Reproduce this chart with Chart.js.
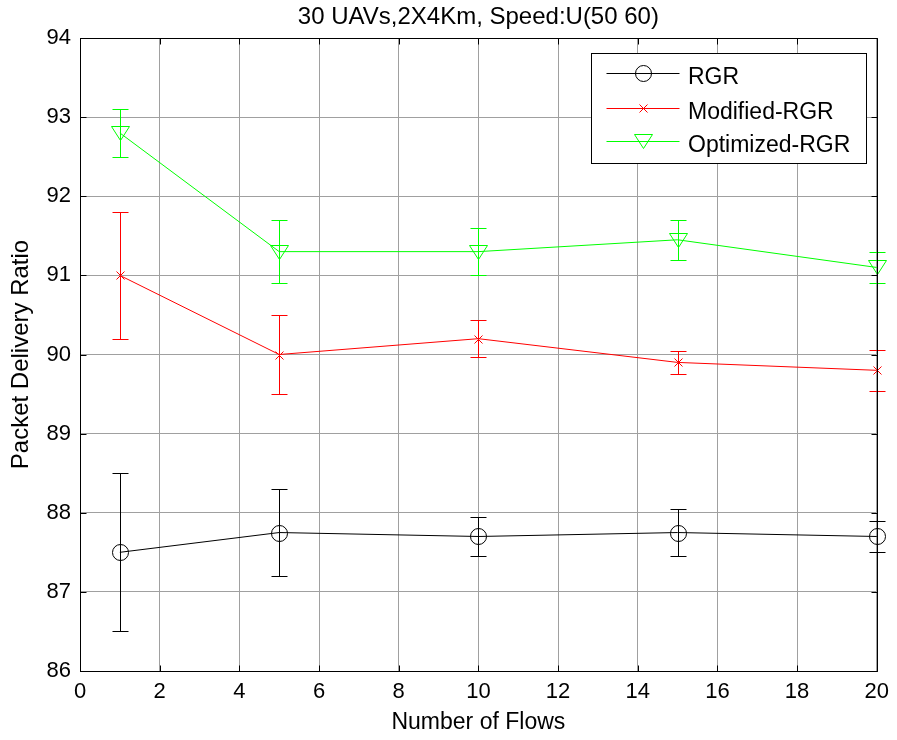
<!DOCTYPE html>
<html>
<head>
<meta charset="utf-8">
<title>Packet Delivery Ratio vs Number of Flows</title>
<script src="https://cdn.jsdelivr.net/npm/chart.js@4.4.1/dist/chart.umd.min.js"></script>
<style>
  html, body { margin: 0; padding: 0; background: #fff; }
  canvas { display: block; }
</style>
</head>
<body>
<canvas id="chart" width="897" height="740"></canvas>
<script>
// Number of flows on the x axis
const flows = [1, 5, 10, 15, 20];

// Packet delivery ratio (mean) per protocol
const rgr = [87.5, 87.75, 87.7, 87.75, 87.7];
const modifiedRgr = [91.0, 90.0, 90.2, 89.9, 89.8];
const optimizedRgr = [92.8, 91.3, 91.3, 91.45, 91.1];

// Half-length of each error bar
const rgrErr = [1.0, 0.55, 0.25, 0.3, 0.2];
const modifiedRgrErr = [0.8, 0.5, 0.23, 0.15, 0.26];
const optimizedRgrErr = [0.3, 0.4, 0.3, 0.25, 0.2];

// Series names and axis ticks
const seriesNames = ['RGR', 'Modified-RGR', 'Optimized-RGR'];
const xTicks = [0, 2, 4, 6, 8, 10, 12, 14, 16, 18, 20];
const yTicks = [86, 87, 88, 89, 90, 91, 92, 93, 94];

const chartTitle = '30 UAVs,2X4Km, Speed:U(50 60)';
const xTitle = 'Number of Flows';
const yTitle = 'Packet Delivery Ratio';

const FONT = "'Liberation Sans', Arial, Helvetica, sans-serif";

const colors = ['#000000', '#ff0000', '#00ff00'];
const markerKinds = ['circle', 'x', 'tri'];
const seriesValues = [rgr, modifiedRgr, optimizedRgr];
const seriesErrors = [rgrErr, modifiedRgrErr, optimizedRgrErr];

// Hollow MATLAB-style marker, snapped to the pixel grid
function drawMarker(ctx, kind, color, x, y) {
  const cx = Math.round(x) + 0.5, cy = Math.round(y) + 0.5;
  ctx.save();
  ctx.strokeStyle = color;
  ctx.lineWidth = 1;
  ctx.beginPath();
  if (kind === 'circle') {
    ctx.arc(cx, cy, 8, 0, Math.PI * 2);
  } else if (kind === 'x') {
    ctx.moveTo(cx - 4, cy - 4); ctx.lineTo(cx + 4, cy + 4);
    ctx.moveTo(cx + 4, cy - 4); ctx.lineTo(cx - 4, cy + 4);
  } else if (kind === 'tri') {
    ctx.moveTo(cx - 9, cy - 7); ctx.lineTo(cx + 9, cy - 7); ctx.lineTo(cx, cy + 7); ctx.closePath();
  }
  ctx.stroke();
  ctx.restore();
}

const datasets = seriesValues.map((vals, i) => ({
  label: seriesNames[i],
  data: flows.map((x, j) => ({ x: x, y: vals[j] })),
  borderColor: colors[i],
  backgroundColor: colors[i],
  borderWidth: 1,
  tension: 0,
  fill: false,
  pointRadius: 0,
  pointHoverRadius: 0,
  clip: false
}));

// Vertical error bars with caps
const errorBarPlugin = {
  id: 'errorBars',
  beforeDatasetsDraw(chart) {
    const { ctx, scales: { x, y } } = chart;
    const cap = 8;
    ctx.save();
    ctx.lineWidth = 1;
    seriesValues.forEach((vals, i) => {
      ctx.strokeStyle = colors[i];
      vals.forEach((v, j) => {
        const px = Math.round(x.getPixelForValue(flows[j])) + 0.5;
        const top = Math.round(y.getPixelForValue(v + seriesErrors[i][j])) + 0.5;
        const bot = Math.round(y.getPixelForValue(v - seriesErrors[i][j])) + 0.5;
        ctx.beginPath();
        ctx.moveTo(px, top); ctx.lineTo(px, bot);
        ctx.moveTo(px - cap, top); ctx.lineTo(px + cap, top);
        ctx.moveTo(px - cap, bot); ctx.lineTo(px + cap, bot);
        ctx.stroke();
      });
    });
    ctx.restore();
  },
  // markers on top of the lines, at the positions the line controller computed
  afterDatasetsDraw(chart) {
    const { ctx } = chart;
    chart.data.datasets.forEach((ds, i) => {
      const meta = chart.getDatasetMeta(i);
      meta.data.forEach(pt => drawMarker(ctx, markerKinds[i], colors[i], pt.x, pt.y));
    });
  }
};

// Box frame, inward ticks on all sides, title and boxed legend
const framePlugin = {
  id: 'frame',
  afterDraw(chart) {
    const { ctx, chartArea: a, scales: { x, y } } = chart;
    ctx.save();
    ctx.strokeStyle = '#000';
    ctx.lineWidth = 1;
    const L = Math.round(a.left) + 0.5, R = Math.round(a.right) + 0.5;
    const T = Math.round(a.top) + 0.5, B = Math.round(a.bottom) + 0.5;
    ctx.beginPath();
    ctx.rect(L, T, R - L, B - T);
    const tl = 6;
    xTicks.forEach(v => {
      const px = Math.round(x.getPixelForValue(v)) + 0.5;
      ctx.moveTo(px, B); ctx.lineTo(px, B - tl);
      ctx.moveTo(px, T); ctx.lineTo(px, T + tl);
    });
    yTicks.forEach(v => {
      const py = Math.round(y.getPixelForValue(v)) + 0.5;
      ctx.moveTo(L, py); ctx.lineTo(L + tl, py);
      ctx.moveTo(R, py); ctx.lineTo(R - tl, py);
    });
    ctx.stroke();

    // title
    ctx.fillStyle = '#000';
    ctx.font = '24px ' + FONT;
    ctx.textAlign = 'center';
    ctx.textBaseline = 'middle';
    ctx.fillText(chartTitle, (a.left + a.right) / 2, 17);

    // legend
    const lw = 275, lh = 110;
    const lx = Math.round(a.right - 11 - lw) + 0.5;
    const ly = Math.round(a.top + 15) + 0.5;
    ctx.fillStyle = '#fff';
    ctx.fillRect(lx, ly, lw, lh);
    ctx.strokeStyle = '#000';
    ctx.strokeRect(lx, ly, lw, lh);
    ctx.font = '23px ' + FONT;
    ctx.textAlign = 'left';
    ctx.textBaseline = 'alphabetic';
    const rows = [19.5, 54.5, 87.5];
    seriesNames.forEach((name, i) => {
      const ry = Math.round(ly + rows[i]) + 0.5;
      ctx.strokeStyle = colors[i];
      ctx.beginPath();
      ctx.moveTo(lx + 15, ry); ctx.lineTo(lx + 88, ry);
      ctx.stroke();
      drawMarker(ctx, markerKinds[i], colors[i], lx + 51.5, ry - 0.5);
      ctx.fillStyle = '#000';
      ctx.fillText(name, lx + 96.5, ry + 10.5);
    });
    ctx.restore();
  }
};

new Chart(document.getElementById('chart'), {
  type: 'line',
  data: { datasets: datasets },
  plugins: [errorBarPlugin, framePlugin],
  options: {
    responsive: false,
    devicePixelRatio: 1,
    animation: false,
    events: [],
    layout: { padding: { top: 38, right: 18, left: 0, bottom: 0 } },
    plugins: {
      legend: { display: false },
      title: { display: false },
      tooltip: { enabled: false }
    },
    scales: {
      x: {
        type: 'linear',
        min: 0,
        max: 20,
        afterBuildTicks: s => { s.ticks = xTicks.map(v => ({ value: v })); },
        afterFit: s => { s.height = 69; },
        ticks: { color: '#000', font: { family: FONT, size: 22 }, padding: 8, maxRotation: 0, autoSkip: false },
        grid: { color: '#a0a0a0', lineWidth: 1, drawTicks: false },
        border: { display: true, color: '#000', width: 1 },
        title: { display: true, text: xTitle, color: '#000', font: { family: FONT, size: 23 }, padding: { top: 0, bottom: 4 } }
      },
      y: {
        type: 'linear',
        min: 86,
        max: 94,
        afterBuildTicks: s => { s.ticks = yTicks.map(v => ({ value: v })); },
        afterFit: s => { s.width = 80; },
        ticks: { color: '#000', font: { family: FONT, size: 22 }, padding: 9, autoSkip: false },
        grid: { color: '#a0a0a0', lineWidth: 1, drawTicks: false },
        border: { display: true, color: '#000', width: 1 },
        title: { display: true, text: yTitle, color: '#000', font: { family: FONT, size: 24 }, padding: { top: 7, bottom: 0 } }
      }
    }
  }
});
</script>
</body>
</html>
